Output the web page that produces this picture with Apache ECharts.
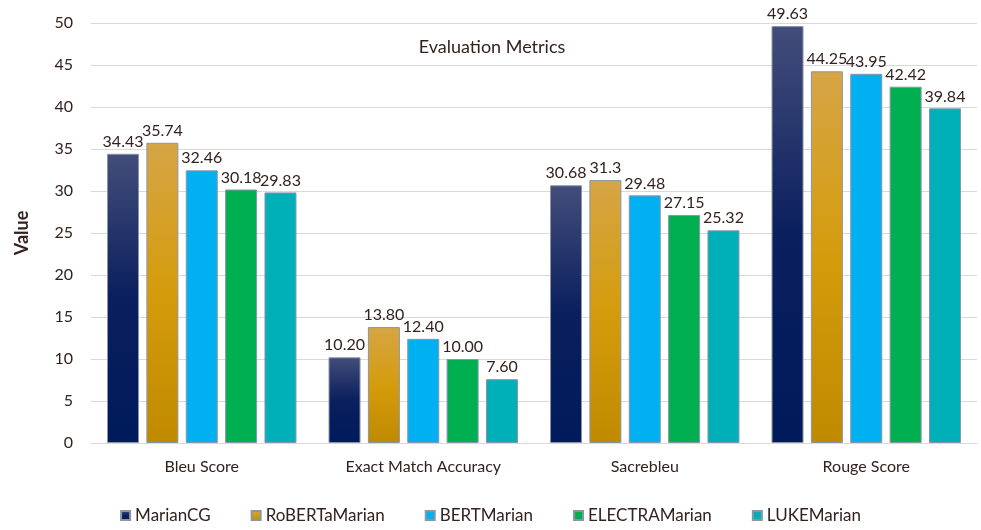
<!DOCTYPE html>
<html>
<head>
<meta charset="utf-8">
<script src="https://cdn.jsdelivr.net/npm/echarts@6/dist/echarts.min.js"></script>
<style>
  html, body { margin: 0; padding: 0; background: #fff; }
  #chart { width: 981px; height: 530px; }
</style>
</head>
<body>
<div id="chart"></div>
<script>
// categories and series values
var categories = ['Bleu Score', 'Exact Match Accuracy', 'Sacrebleu', 'Rouge Score'];
var marianCG = [34.43, 10.20, 30.68, 49.63];
var robertaMarian = [35.74, 13.80, 31.3, 44.25];
var bertMarian = [32.46, 12.40, 29.48, 43.95];
var electraMarian = [30.18, 10.00, 27.15, 42.42];
var lukeMarian = [29.83, 7.60, 25.32, 39.84];
// labels as printed on the chart
var marianLabels = ['34.43', '10.20', '30.68', '49.63'];
var robertaLabels = ['35.74', '13.80', '31.3', '44.25'];
var bertLabels = ['32.46', '12.40', '29.48', '43.95'];
var electraLabels = ['30.18', '10.00', '27.15', '42.42'];
var lukeLabels = ['29.83', '7.60', '25.32', '39.84'];

var textColor = '#33221e';
var fontFamily = 'Lato, sans-serif';

function grad(top, mid, bottom) {
  return new echarts.graphic.LinearGradient(0, 0, 0, 1, [
    { offset: 0, color: top },
    { offset: 0.5, color: mid },
    { offset: 1, color: bottom }
  ]);
}

function makeSeries(name, data, labels, color) {
  return {
    name: name,
    type: 'bar',
    data: data,
    barWidth: 32,
    barGap: '23%',
    itemStyle: {
      color: color,
      borderColor: '#8a96a8',
      borderWidth: 1
    },
    label: {
      show: true,
      position: 'top',
      distance: 4,
      color: textColor,
      fontFamily: fontFamily,
      fontSize: 16,
      formatter: function (p) { return labels[p.dataIndex]; }
    }
  };
}

var chart = echarts.init(document.getElementById('chart'));
chart.setOption({
  animation: false,
  title: {
    text: 'Evaluation Metrics',
    left: 487,
    top: 33,
    textAlign: 'center',
    textStyle: { color: textColor, fontFamily: fontFamily, fontSize: 18, fontWeight: 'normal' }
  },
  legend: {
    bottom: 1,
    left: 'center',
    itemWidth: 9,
    itemHeight: 9,
    itemGap: 40,
    icon: 'rect',
    textStyle: { color: textColor, fontFamily: fontFamily, fontSize: 17 },
    data: ['MarianCG', 'RoBERTaMarian', 'BERTMarian', 'ELECTRAMarian', 'LUKEMarian']
  },
  grid: { left: 91, right: 4, top: 23, bottom: 87 },
  xAxis: {
    type: 'category',
    data: categories,
    axisTick: { show: false },
    axisLine: { lineStyle: { color: '#d9d9d9' } },
    axisLabel: { color: textColor, fontFamily: fontFamily, fontSize: 16, margin: 16 }
  },
  yAxis: {
    type: 'value',
    min: 0,
    max: 50,
    interval: 5,
    name: 'Value',
    nameLocation: 'middle',
    nameGap: 60,
    nameTextStyle: { color: textColor, fontFamily: fontFamily, fontSize: 18, fontWeight: 'bold' },
    axisLine: { show: false },
    axisTick: { show: false },
    splitLine: { lineStyle: { color: '#d9d9d9' } },
    axisLabel: { color: textColor, fontFamily: fontFamily, fontSize: 16, margin: 18 }
  },
  series: [
    makeSeries('MarianCG', marianCG, marianLabels, grad('#434d7a', '#0a1f5e', '#001a5a')),
    makeSeries('RoBERTaMarian', robertaMarian, robertaLabels, grad('#d6a546', '#d49c0c', '#c08a00')),
    makeSeries('BERTMarian', bertMarian, bertLabels, '#00b0f0'),
    makeSeries('ELECTRAMarian', electraMarian, electraLabels, '#00b050'),
    makeSeries('LUKEMarian', lukeMarian, lukeLabels, '#00b0b8')
  ]
});
</script>
</body>
</html>
